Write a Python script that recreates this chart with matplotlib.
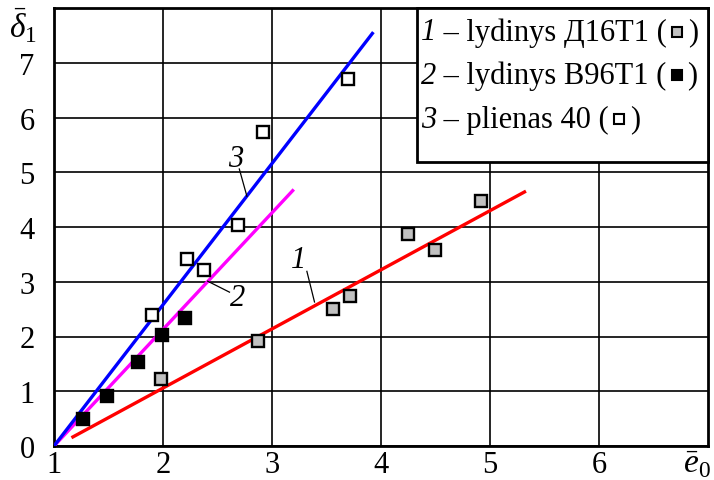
import numpy as np
import matplotlib
matplotlib.use("Agg")
import matplotlib.pyplot as plt
from matplotlib.offsetbox import TextArea, DrawingArea, HPacker, AnchoredOffsetbox
from matplotlib.lines import Line2D
from matplotlib.patches import Rectangle

plt.rcParams['font.family'] = ['Liberation Serif', 'DejaVu Serif']
plt.rcParams['mathtext.fontset'] = 'custom'
plt.rcParams['mathtext.rm'] = 'Liberation Serif'
plt.rcParams['mathtext.it'] = 'Liberation Serif:italic'

# Experimental points
x1 = [1.98, 2.87, 3.56, 3.72, 4.25, 4.50, 4.92]
y1 = [1.22, 1.92, 2.51, 2.74, 3.87, 3.58, 4.47]
x2 = [1.27, 1.49, 1.77, 1.99, 2.20]
y2 = [0.50, 0.91, 1.54, 2.03, 2.33]
x3 = [1.90, 2.22, 2.38, 2.69, 2.92, 3.70]
y3 = [2.39, 3.41, 3.22, 4.03, 5.74, 6.70]

# Linear fits: slope, x where line crosses zero, x range
fit_slope = [1.08, 2.13, 2.58]
fit_x0 = [1.02, 1.0, 1.0]
fit_range = [(1.16, 5.33), (1.0, 3.20), (1.0, 3.93)]
fit_colors = ['#ff0000', '#ff00ff', '#0000ff']

legend_labels = ['lydinys Д16T1', 'lydinys B96T1', 'plienas 40']
xticks = [1, 2, 3, 4, 5, 6]
yticks = [0, 1, 2, 3, 4, 5, 6, 7]

FS = 22
W, H = 714, 481
fig = plt.figure(figsize=(W / 100, H / 100), dpi=100)
L, R, T, B = 54, 708, 9, 447
ax = fig.add_axes([L / W, 1 - B / H, (R - L) / W, (B - T) / H])
ax.set_xlim(1, 7)
ax.set_ylim(0, 8)

ax.set_xticks(xticks)
ax.set_yticks(yticks)
ax.set_xticklabels([str(v) for v in xticks])
ax.set_yticklabels([str(v) for v in yticks])
ax.tick_params(length=0, labelsize=FS, pad=3)
ax.tick_params(axis='y', pad=14)
ax.grid(True, color='black', linewidth=1.2)
ax.set_axisbelow(True)
for s in ax.spines.values():
    s.set_linewidth(2.0)

for k in range(3):
    xs = np.array(fit_range[k])
    ax.plot(xs, fit_slope[k] * (xs - fit_x0[k]), color=fit_colors[k],
            linewidth=2.4, solid_capstyle='butt', zorder=3)

ms, mew = 8.5, 1.7
ax.plot(x1, y1, 's', ms=ms, mfc='#c0c0c0', mec='black', mew=mew, zorder=4)
ax.plot(x2, y2, 's', ms=ms, mfc='black', mec='black', mew=mew, zorder=4)
ax.plot(x3, y3, 's', ms=ms, mfc='white', mec='black', mew=mew, zorder=4)

# Curve labels with leader lines
curve_tags = [('1', (3.24, 3.40), (3.32, 3.19), (3.39, 2.63)),
              ('2', (2.68, 2.72), (2.41, 3.01), (2.61, 2.81)),
              ('3', (2.67, 5.26), (2.70, 5.06), (2.77, 4.56))]
for tag, tpos, p0, p1 in curve_tags:
    ax.text(tpos[0], tpos[1], tag, fontsize=FS, style='italic',
            ha='center', va='center', zorder=5)
    ax.plot([p0[0], p1[0]], [p0[1], p1[1]], color='black', linewidth=0.9, zorder=5)

# Axis symbols
fig.text(23 / W, 1 - 26 / H, r'$\bar{\delta}_1$', fontsize=24, ha='center', va='center')
fig.text(697 / W, 1 - 465 / H, r'$\bar{e}_0$', fontsize=24, ha='center', va='center')

# Legend box
box = Rectangle((417 / W, 1 - 163 / H), (708 - 417) / W, (163 - 9) / H,
                transform=fig.transFigure, facecolor='white', edgecolor='black',
                linewidth=2.0, zorder=6)
fig.patches.append(box)

marker_fill = ['#c0c0c0', 'black', 'white']
row_y = [33, 76, 120]
for k in range(3):
    da = DrawingArea(15, 14, 0, 0)
    da.add_artist(Line2D([7.5], [7], marker='s', ms=7.5, mfc=marker_fill[k],
                         mec='black', mew=1.5, linestyle='none'))
    parts = [TextArea(f'{k + 1}', textprops=dict(fontsize=FS, style='italic')),
             TextArea(f' – {legend_labels[k]} (', textprops=dict(fontsize=FS)),
             da,
             TextArea(')', textprops=dict(fontsize=FS))]
    row = HPacker(children=parts, align='center', pad=0, sep=0)
    anc = AnchoredOffsetbox(loc='center left', child=row, pad=0, borderpad=0,
                            frameon=False,
                            bbox_to_anchor=(421 / W, 1 - row_y[k] / H),
                            bbox_transform=fig.transFigure)
    anc.set_zorder(7)
    fig.add_artist(anc)

fig.savefig('out.png', dpi=100)
